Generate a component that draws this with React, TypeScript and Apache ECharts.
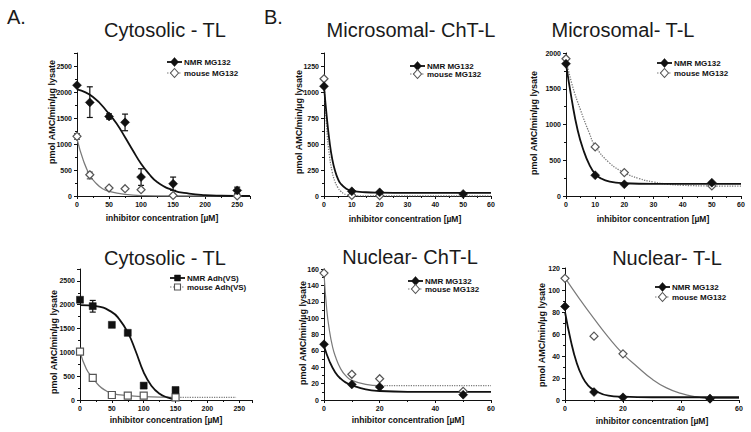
import React, { useEffect, useRef } from "react";
import * as echarts from "echarts";

const FONT = "'Liberation Sans', Arial, Helvetica, sans-serif";

// ---------- Panel 1: Cytosolic - TL (MG132) ----------
const p1NmrPoints = [[0, 2130], [20, 1800], [50, 1530], [75, 1416], [100, 364], [150, 236], [250, 108]];
const p1MousePoints = [[0, 1148], [20, 408], [50, 153], [75, 140], [100, 121], [150, 10], [250, 0]];
const p1NmrErrors = [[20, 1510, 2100], [50, 1480, 1580], [75, 1255, 1575], [100, 204, 524], [150, 108, 364], [250, 50, 170]];
const p1MouseErrors = [[0, 1090, 1200], [20, 330, 460]];
const p1NmrCurve = [[0, 2050], [25, 1905], [50, 1580], [62, 1390], [75, 1130], [87, 880], [100, 620], [112, 430], [125, 270], [150, 110], [175, 45], [200, 15], [225, 5], [270, 0]];
const p1MouseCurve = [[0, 1100], [10, 680], [20, 400], [30, 240], [40, 140], [50, 90], [75, 30], [100, 6], [150, 0], [250, 0]];

// ---------- Panel 2: Microsomal- ChT-L ----------
const p2NmrPoints = [[0, 1055], [10, 45], [20, 35], [50, 20]];
const p2MousePoints = [[0, 1127], [10, 6], [20, 3]];
const p2NmrCurve = [[0, 1055], [1, 760], [2, 520], [3, 350], [4, 240], [5, 165], [6, 118], [8, 70], [10, 50], [15, 36], [20, 32], [30, 30], [60, 30]];
const p2MouseCurve = [[0, 1127], [1, 640], [2, 380], [3, 225], [4, 135], [5, 80], [6, 45], [7, 25], [8, 12], [10, 3], [20, 1], [60, 1]];

// ---------- Panel 3: Microsomal- T-L ----------
const p3NmrPoints = [[0, 1850], [10, 290], [20, 164], [50, 187]];
const p3MousePoints = [[0, 1920], [10, 687], [20, 327], [50, 140]];
const p3NmrCurve = [[0, 1850], [2, 1340], [4, 920], [6, 640], [8, 440], [10, 310], [12, 245], [15, 200], [20, 178], [30, 170], [60, 170]];
const p3MouseCurve = [[0, 1920], [2, 1570], [5, 1200], [8, 880], [10, 700], [15, 460], [20, 327], [25, 245], [30, 195], [35, 165], [40, 150], [50, 140], [60, 138]];

// ---------- Panel 4: Cytosolic - TL (Adh(VS)) ----------
const p4NmrPoints = [[0, 2104], [20, 1970], [50, 1578], [75, 1410], [100, 302], [150, 210]];
const p4MousePoints = [[0, 1017], [20, 463], [50, 105], [75, 91], [100, 91], [150, 56]];
const p4NmrErrors = [[20, 1845, 2090]];
const p4NmrCurve = [[0, 1990], [25, 1970], [50, 1845], [62, 1690], [75, 1420], [87, 1040], [100, 580], [112, 300], [125, 130], [137, 55], [150, 5]];
const p4MouseCurve = [[0, 1017], [10, 650], [20, 463], [30, 300], [40, 200], [50, 140], [75, 92], [100, 70], [150, 56]];
const p4MouseTail = [[150, 56], [245, 56]];

// ---------- Panel 5: Nuclear- ChT-L ----------
const p5NmrPoints = [[0, 68], [10, 19], [20, 16], [50, 6.5]];
const p5MousePoints = [[0, 155], [10, 31.4], [20, 26], [50, 10.6]];
const p5NmrCurve = [[0, 66], [2, 47], [4, 34], [6, 26], [8, 21], [10, 18], [15, 13], [20, 11], [30, 10], [60, 10]];
const p5MouseCurve = [[0, 155], [1, 110], [2, 84], [3, 66], [4, 54], [6, 38], [8, 29], [10, 24], [15, 19], [20, 17.5]];
const p5MouseTail = [[20, 17.5], [60, 17.5]];

// ---------- Panel 6: Nuclear- T-L ----------
const p6NmrPoints = [[0, 85], [10, 7.2], [20, 2.4], [50, 1.2]];
const p6MousePoints = [[0, 110.6], [10, 58], [20, 42], [50, 1.2]];
const p6NmrCurve = [[0, 80], [2, 54], [4, 34], [6, 21], [8, 13], [10, 9], [15, 4], [20, 3], [30, 2.5], [60, 2.5]];
const p6MouseCurve = [[0, 111], [5, 92], [10, 74], [15, 57], [20, 42], [25, 30], [30, 19], [35, 11], [40, 6], [45, 3], [50, 1.5], [60, 1.5]];

// ---------- Texts ----------
const titles = ["Cytosolic - TL", "Microsomal- ChT-L", "Microsomal- T-L", "Cytosolic - TL", "Nuclear- ChT-L", "Nuclear- T-L"];
const yName = "pmol AMC/min/µg lysate";
const xName = "inhibitor concentration [µM]";
const legendMG = ["NMR MG132", "mouse MG132"];
const legendAdh = ["NMR Adh(VS)", "mouse Adh(VS)"];

// axis ranges
const xMax = [270, 60, 60, 270, 60, 60];
const xInterval = [50, 10, 10, 50, 20, 20];
const yMax = [2750, 1375, 2000, 2750, 160, 120];
const yInterval = [500, 250, 500, 500, 20, 20];

// layout
const grids = [
  { left: 77, top: 53, width: 173, height: 143 },
  { left: 324, top: 53, width: 167, height: 143 },
  { left: 566, top: 53, width: 175, height: 143 },
  { left: 80, top: 269, width: 172, height: 131 },
  { left: 324, top: 269, width: 167, height: 131 },
  { left: 565, top: 268, width: 174, height: 132 },
];
const titlePos = [[165, 30], [411, 30], [623, 30], [165, 258], [410, 257], [667, 258]];
const yNamePos = [[52, 112], [299, 122], [534, 123], [54, 342], [303, 333], [542, 335]];
const xNamePos = [[162, 218], [405, 219], [653, 219], [166, 420], [408, 420], [652, 421]];
const legendPos = [
  [167, 62, 73], [410, 66, 74], [657, 63, 73], [170, 278, 287], [408, 281, 289], [655, 287, 297],
];

const BLACK = "#111";
const GRAY = "#7a7a7a";

function errorSeries(idx: number, data: number[][], color: string) {
  return {
    type: "custom",
    xAxisIndex: idx,
    yAxisIndex: idx,
    data,
    z: 3,
    encode: { x: 0, y: [1, 2] },
    renderItem: (_p: any, api: any) => {
      const x = api.value(0);
      const a = api.coord([x, api.value(1)]);
      const b = api.coord([x, api.value(2)]);
      const st = { stroke: color, lineWidth: 1.2 };
      const w = 3;
      return {
        type: "group",
        children: [
          { type: "line", shape: { x1: a[0], y1: a[1], x2: b[0], y2: b[1] }, style: st },
          { type: "line", shape: { x1: a[0] - w, y1: a[1], x2: a[0] + w, y2: a[1] }, style: st },
          { type: "line", shape: { x1: b[0] - w, y1: b[1], x2: b[0] + w, y2: b[1] }, style: st },
        ],
      };
    },
  };
}

function curve(idx: number, data: number[][], color: string, width: number, type: string) {
  return {
    type: "line",
    xAxisIndex: idx,
    yAxisIndex: idx,
    data,
    smooth: 0.5,
    showSymbol: false,
    symbol: "none",
    lineStyle: { color, width, type },
    z: 2,
    silent: true,
  };
}

function points(idx: number, data: number[][], name: string, filled: boolean, symbol: string, size: number) {
  return {
    type: "scatter",
    name,
    xAxisIndex: idx,
    yAxisIndex: idx,
    data,
    symbol,
    symbolSize: size,
    itemStyle: filled
      ? { color: BLACK, borderColor: BLACK, borderWidth: 0.5, opacity: 1 }
      : { color: "#fff", borderColor: "#555", borderWidth: 1.2, opacity: 1 },
    z: 4,
  };
}

function marker(cx: number, cy: number, filled: boolean, square: boolean) {
  const style = filled ? { fill: BLACK, stroke: BLACK, lineWidth: 0.5 } : { fill: "#fff", stroke: "#555", lineWidth: 1.1 };
  if (square) {
    return { type: "rect", shape: { x: cx - 3, y: cy - 3, width: 6, height: 6 }, style };
  }
  return {
    type: "polygon",
    shape: { points: [[cx, cy - 4.5], [cx + 4, cy], [cx, cy + 4.5], [cx - 4, cy]] },
    style,
  };
}

const plain = (v: number) => String(v);

function buildOption() {
  const xAxis = grids.map((_, i) => ({
    type: "value",
    gridIndex: i,
    min: 0,
    max: xMax[i],
    interval: xInterval[i],
    axisLine: { show: true, onZero: false, lineStyle: { color: BLACK, width: 1 } },
    axisTick: { show: true, length: 3, lineStyle: { color: BLACK } },
    minorTick: { show: true, splitNumber: 2, length: 2, lineStyle: { color: BLACK } },
    splitLine: { show: false },
    axisLabel: {
      showMaxLabel: xMax[i] % xInterval[i] === 0,
      formatter: plain,
      margin: 5,
      color: BLACK,
      fontFamily: FONT,
      fontWeight: "bold",
      fontSize: 7,
    },
  }));
  const yAxis = grids.map((_, i) => ({
    type: "value",
    gridIndex: i,
    min: 0,
    max: yMax[i],
    interval: yInterval[i],
    axisLine: { show: true, onZero: false, lineStyle: { color: BLACK, width: 1 } },
    axisTick: { show: true, length: 3, lineStyle: { color: BLACK } },
    minorTick: { show: true, splitNumber: 2, length: 2, lineStyle: { color: BLACK } },
    splitLine: { show: false },
    axisLabel: {
      showMaxLabel: yMax[i] % yInterval[i] === 0,
      formatter: plain,
      margin: 5,
      color: BLACK,
      fontFamily: FONT,
      fontWeight: "bold",
      fontSize: 7,
    },
  }));

  const series: any[] = [
    // panel 1
    curve(0, p1MouseCurve, GRAY, 1.3, "solid"),
    curve(0, p1NmrCurve, BLACK, 1.8, "solid"),
    errorSeries(0, p1MouseErrors, "#555"),
    errorSeries(0, p1NmrErrors, BLACK),
    points(0, p1MousePoints, "mouse MG132", false, "diamond", 8),
    points(0, p1NmrPoints, "NMR MG132", true, "diamond", 9),
    // panel 2
    curve(1, p2MouseCurve, GRAY, 1.3, "dotted"),
    curve(1, p2NmrCurve, BLACK, 1.8, "solid"),
    points(1, p2MousePoints, "mouse MG132", false, "diamond", 8),
    points(1, p2NmrPoints, "NMR MG132", true, "diamond", 9),
    // panel 3
    curve(2, p3MouseCurve, GRAY, 1.3, "dotted"),
    curve(2, p3NmrCurve, BLACK, 1.8, "solid"),
    points(2, p3MousePoints, "mouse MG132", false, "diamond", 8),
    points(2, p3NmrPoints, "NMR MG132", true, "diamond", 9),
    // panel 4
    curve(3, p4MouseCurve, GRAY, 1.3, "solid"),
    curve(3, p4MouseTail, GRAY, 1.2, "dotted"),
    curve(3, p4NmrCurve, BLACK, 1.8, "solid"),
    errorSeries(3, p4NmrErrors, BLACK),
    points(3, p4MousePoints, "mouse Adh(VS)", false, "rect", 7),
    points(3, p4NmrPoints, "NMR Adh(VS)", true, "rect", 7),
    // panel 5
    curve(4, p5MouseCurve, GRAY, 1.2, "solid"),
    curve(4, p5MouseTail, GRAY, 1.2, "dotted"),
    curve(4, p5NmrCurve, BLACK, 1.8, "solid"),
    points(4, p5MousePoints, "mouse MG132", false, "diamond", 8),
    points(4, p5NmrPoints, "NMR MG132", true, "diamond", 9),
    // panel 6
    curve(5, p6MouseCurve, GRAY, 1.2, "solid"),
    curve(5, p6NmrCurve, BLACK, 1.8, "solid"),
    points(5, p6MousePoints, "mouse MG132", false, "diamond", 8),
    points(5, p6NmrPoints, "NMR MG132", true, "diamond", 9),
  ];

  const graphic: any[] = [];
  graphic.push({
    type: "text", x: 7, y: 17,
    style: { text: "A.", fontFamily: FONT, fontSize: 20, fill: "#1a1a1a", verticalAlign: "middle" },
  });
  graphic.push({
    type: "text", x: 264, y: 17,
    style: { text: "B.", fontFamily: FONT, fontSize: 20, fill: "#1a1a1a", verticalAlign: "middle" },
  });
  titles.forEach((t, i) => {
    graphic.push({
      type: "text", x: titlePos[i][0], y: titlePos[i][1],
      style: { text: t, fontFamily: FONT, fontSize: 20, fill: "#1a1a1a", align: "center", verticalAlign: "middle" },
    });
    graphic.push({
      type: "text", x: yNamePos[i][0], y: yNamePos[i][1], rotation: Math.PI / 2,
      style: { text: yName, fontFamily: FONT, fontSize: 9, fontWeight: "bold", fill: BLACK, align: "center", verticalAlign: "middle" },
    });
    graphic.push({
      type: "text", x: xNamePos[i][0], y: xNamePos[i][1],
      style: { text: xName, fontFamily: FONT, fontSize: 8.5, fontWeight: "bold", fill: BLACK, align: "center", verticalAlign: "middle" },
    });
    const [lx, y1, y2] = legendPos[i];
    const labels = i === 3 ? legendAdh : legendMG;
    const sq = i === 3;
    graphic.push({ type: "line", shape: { x1: lx, y1, x2: lx + 15, y2: y1 }, style: { stroke: BLACK, lineWidth: 1.8 } });
    graphic.push(marker(lx + 7.5, y1, true, sq));
    graphic.push({
      type: "text", x: lx + 17, y: y1,
      style: { text: labels[0], fontFamily: FONT, fontSize: 8, fontWeight: "bold", fill: BLACK, verticalAlign: "middle" },
    });
    graphic.push({ type: "line", shape: { x1: lx, y1: y2, x2: lx + 15, y2: y2 }, style: { stroke: GRAY, lineWidth: 1.1, lineDash: [1.5, 1.5] } });
    graphic.push(marker(lx + 7.5, y2, false, sq));
    graphic.push({
      type: "text", x: lx + 17, y: y2,
      style: { text: labels[1], fontFamily: FONT, fontSize: 8, fontWeight: "bold", fill: BLACK, verticalAlign: "middle" },
    });
  });

  return {
    animation: false,
    backgroundColor: "#ffffff",
    textStyle: { fontFamily: FONT },
    grid: grids.map((g) => ({ ...g, containLabel: false })),
    xAxis,
    yAxis,
    series,
    graphic,
  };
}

export default function App() {
  const ref = useRef<HTMLDivElement>(null);
  useEffect(() => {
    document.body.style.margin = "0";
    const chart = echarts.init(ref.current!, undefined, { renderer: "svg" });
    chart.setOption(buildOption() as any);
    return () => chart.dispose();
  }, []);
  return <div ref={ref} style={{ width: 751, height: 432, background: "#fff" }} />;
}
